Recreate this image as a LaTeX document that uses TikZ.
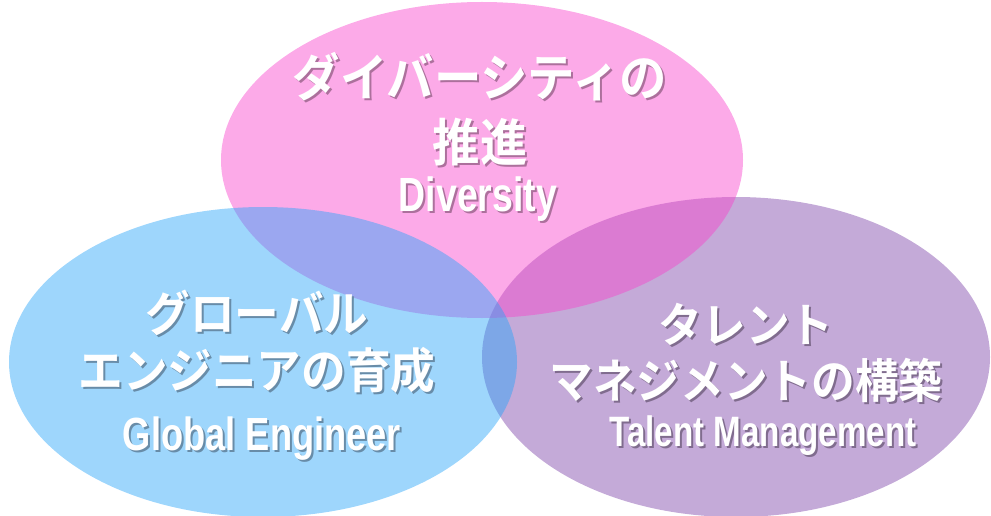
\documentclass[tikz,border=0pt]{standalone}
\usepackage{fontspec}
\usetikzlibrary{shapes.geometric}
\newfontfamily\jpfont[FakeStretch=0.93]{Noto Sans CJK JP Bold}
\newfontfamily\enfont[FakeStretch=0.78]{Liberation Sans Bold}
\definecolor{divpink}{RGB}{248,66,204}
\definecolor{globlue}{RGB}{39,164,249}
\definecolor{talpurple}{RGB}{124,66,168}
\definecolor{divshade}{RGB}{172,112,156}
\definecolor{gloshade}{RGB}{104,140,168}
\definecolor{talshade}{RGB}{128,108,142}

\tikzset{
  venn/.style={ellipse, inner sep=0pt, fill opacity=0.45},
  jptext/.style={text=white, align=center, inner sep=0pt},
  entext/.style={text=white, inner sep=0pt},
}
% one line of text with a soft drop shadow
\newcommand{\sh}[1]{\rlap{\hspace{2pt}\raisebox{-2pt}{\color{shade}#1}}#1}

\begin{document}
\begin{tikzpicture}[x=1pt, y=-1pt]
  \useasboundingbox (0,0) rectangle (991,516);

  % the three circles
  \node[venn, fill=talpurple, minimum width=508pt, minimum height=320pt] (talent) at (736,357) {};
  \node[venn, fill=divpink, minimum width=522pt, minimum height=316pt] (diversity) at (482,160) {};
  \node[venn, fill=globlue, minimum width=508pt, minimum height=310pt] (global) at (263,362) {};

  % texts
  \node[jptext, font=\jpfont\fontsize{51pt}{65pt}\selectfont\colorlet{shade}{divshade}] (div-jp) at (480,110)
    {\sh{ダイバーシティの}\\\sh{推進}};
  \node[entext, font=\enfont\fontsize{48pt}{56pt}\selectfont\colorlet{shade}{divshade}] (div-en) at (478,200)
    {\sh{Diversity}};

  \node[jptext, font=\jpfont\fontsize{48pt}{57pt}\selectfont\colorlet{shade}{gloshade}] (glo-jp) at (257,343)
    {\sh{グローバル}\\\sh{エンジニアの育成}};
  \node[entext, font=\enfont\fontsize{46.5pt}{52pt}\selectfont\colorlet{shade}{gloshade}] (glo-en) at (262,440)
    {\sh{Global Engineer}};

  \node[jptext, font=\jpfont\fontsize{47pt}{56pt}\selectfont\colorlet{shade}{talshade}] (tal-jp) at (746,354)
    {\sh{タレント}\\\sh{マネジメントの構築}};
  \node[entext, font=\enfont\fontsize{42.5pt}{48pt}\selectfont\colorlet{shade}{talshade}] (tal-en) at (763,437)
    {\sh{Talent Management}};
\end{tikzpicture}
\end{document}
